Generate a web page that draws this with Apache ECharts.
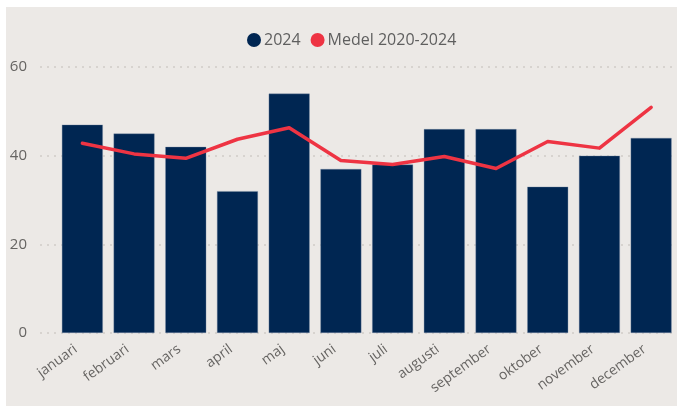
<!DOCTYPE html>
<html>
<head>
<meta charset="utf-8">
<script src="https://cdn.jsdelivr.net/npm/echarts@6/dist/echarts.min.js"></script>
<style>
	html, body { margin: 0; padding: 0; background: #ffffff; }
	#container { position: absolute; left: 6px; top: 7px; width: 671px; height: 399px; background: #ECE9E6; }
</style>
</head>
<body>
<div id="container"></div>
<script>
// data
var months = ['januari', 'februari', 'mars', 'april', 'maj', 'juni', 'juli', 'augusti', 'september', 'oktober', 'november', 'december'];
var values2024 = [47, 45, 42, 32, 54, 37, 38, 46, 46, 33, 40, 44];
var medel = [42.8, 40.4, 39.4, 43.7, 46.3, 38.9, 38.0, 39.8, 37.1, 43.2, 41.7, 50.9];
var yTicks = [0, 20, 40, 60];

var dom = document.getElementById('container');
var myChart = echarts.init(dom);
var labelColor = '#666462';
var fontName = "'Open Sans', sans-serif";

var option = {
	animation: false,
	legend: {
		left: 236,
		top: 20,
		itemWidth: 14,
		itemHeight: 14,
		itemGap: 10,
		icon: 'circle',
		itemStyle: { borderWidth: 0 },
		textStyle: {
			color: '#5f5f5f',
			fontSize: 16,
			fontFamily: fontName,
			padding: [0, 0, 0, -2]
		},
		data: ['2024', 'Medel 2020-2024']
	},
	grid: [{
		// grid only for the dotted value lines and labels
		left: 34,
		right: -10,
		top: 60,
		bottom: 73
	}, {
		left: 50.5,
		right: -3.5,
		top: 60,
		bottom: 73
	}],
	xAxis: [{
		gridIndex: 0,
		type: 'category',
		show: false,
		data: months
	}, {
		gridIndex: 1,
		type: 'category',
		data: months,
		axisLine: { show: false },
		axisTick: { show: false },
		axisLabel: {
			rotate: 36,
			margin: 10,
			interval: 0,
			padding: [0, 8, 0, 0],
			color: labelColor,
			fontSize: 14,
			fontFamily: fontName
		}
	}],
	yAxis: [{
		gridIndex: 0,
		type: 'value',
		min: yTicks[0],
		max: yTicks[yTicks.length - 1],
		interval: yTicks[1] - yTicks[0],
		axisLine: { show: false },
		axisTick: { show: false },
		axisLabel: {
			margin: 13,
			color: labelColor,
			fontSize: 15,
			fontFamily: fontName
		},
		splitLine: {
			lineStyle: {
				type: [2, 5],
				color: '#cfcbc7',
				width: 1.5
			}
		}
	}, {
		gridIndex: 1,
		type: 'value',
		min: yTicks[0],
		max: yTicks[yTicks.length - 1],
		show: false
	}],
	series: [{
		name: '2024',
		type: 'bar',
		xAxisIndex: 1,
		yAxisIndex: 1,
		barWidth: 41,
		itemStyle: {
			color: '#002652',
			borderColor: 'rgba(120,140,165,0.7)',
			borderWidth: 0.5
		},
		data: values2024
	}, {
		name: 'Medel 2020-2024',
		type: 'line',
		xAxisIndex: 1,
		yAxisIndex: 1,
		symbol: 'none',
		lineStyle: {
			color: '#EE3443',
			width: 3.5,
			cap: 'round',
			join: 'round'
		},
		itemStyle: { color: '#EE3443' },
		data: medel
	}]
};
myChart.setOption(option);
</script>
</body>
</html>
